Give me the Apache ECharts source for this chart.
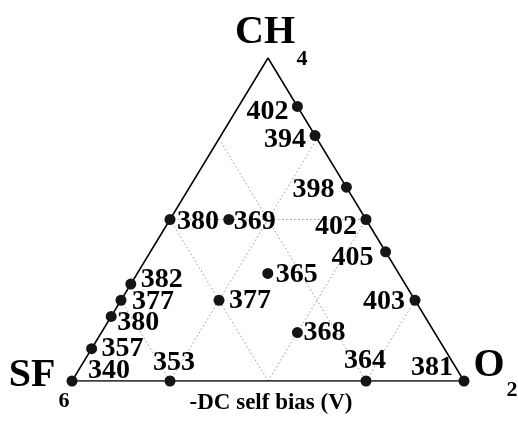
<!DOCTYPE html>
<html>
<head>
<meta charset="utf-8">
<title>-DC self bias (V)</title>
<script src="https://cdn.jsdelivr.net/npm/echarts@6/dist/echarts.min.js"></script>
<style>
  html, body { margin: 0; padding: 0; background: #fff; }
  #chart { width: 518px; height: 426px; }
</style>
</head>
<body>
<div id="chart"></div>
<script>
// Gas mixture compositions (mole fractions) and the measured -DC self bias at each
const ch4  = [0.85, 0.76, 0.60, 0.50, 0.40, 0.25, 0.00, 0.00, 0.00, 0.00, 0.10, 0.20, 0.25, 0.30, 0.50, 0.50, 0.333, 0.25, 0.15];
const o2   = [0.15, 0.24, 0.40, 0.50, 0.60, 0.75, 1.00, 0.75, 0.25, 0.00, 0.00, 0.00, 0.00, 0.00, 0.00, 0.15, 0.333, 0.25, 0.50];
const sf6  = [0.00, 0.00, 0.00, 0.00, 0.00, 0.00, 0.00, 0.25, 0.75, 1.00, 0.90, 0.80, 0.75, 0.70, 0.50, 0.35, 0.334, 0.50, 0.35];
const bias = [402, 394, 398, 402, 405, 403, 381, 364, 353, 340, 357, 380, 377, 382, 380, 369, 365, 377, 368];

// Grid levels of the ternary diagram
const o2Levels  = [0.25, 0.5, 0.75];   // lines of constant O2
const sf6Levels = [0.25, 0.5, 0.75];   // lines of constant SF6
const ch4Levels = [0.5];               // lines of constant CH4

// Label centre offsets (px) from each marker
const labelOffset = [
  [-30, 5], [-30, 4], [-33, 3], [-30, 7], [-33, 6], [-31, 2], [-32, -13],
  [-1, -20], [4, -18], [37, -10], [31, 0], [27, 6], [32, 2], [31, -4],
  [28, 2], [26, 2], [29, 1], [31, 1], [27, 0]
];

// ternary (sf6, ch4, o2) -> cartesian on a unit-width triangle
function toXY(s, c, o) {
  return [o + c / 2, c];
}

const serif = '"Liberation Serif", "DejaVu Serif", serif';

const gridSeries = [];
function gridLine(a, b) {
  gridSeries.push({
    type: 'line', silent: true, symbol: 'none', z: 1,
    lineStyle: { color: '#9a9a9a', width: 1, type: [1.5, 2.5] },
    data: [a, b]
  });
}
o2Levels.forEach(v => gridLine(toXY(1 - v, 0, v), toXY(0, 1 - v, v)));
sf6Levels.forEach(v => gridLine(toXY(v, 1 - v, 0), toXY(v, 0, 1 - v)));
ch4Levels.forEach(v => gridLine(toXY(1 - v, v, 0), toXY(0, v, 1 - v)));

const frame = {
  type: 'line', silent: true, symbol: 'none', z: 2,
  lineStyle: { color: '#000', width: 1.5 },
  data: [toXY(1, 0, 0), toXY(0, 0, 1), toXY(0, 1, 0), toXY(1, 0, 0)]
};

const points = {
  type: 'scatter', z: 5,
  symbol: 'circle', symbolSize: 11,
  itemStyle: { color: '#151515', opacity: 1 },
  data: bias.map((b, i) => ({
    value: toXY(sf6[i], ch4[i], o2[i]).concat(b),
    label: { offset: labelOffset[i] }
  })),
  label: {
    show: true, position: 'inside',
    formatter: p => String(p.value[2]),
    fontFamily: serif, fontWeight: 'bold', fontSize: 28,
    color: '#000', textBorderWidth: 0, textBorderColor: 'transparent'
  }
};

function txt(x, y, s, size) {
  return {
    type: 'text', x: x, y: y, z: 10,
    style: {
      text: s, fontFamily: serif, fontWeight: 'bold', fontSize: size,
      fill: '#000', align: 'center', verticalAlign: 'middle'
    }
  };
}

const chart = echarts.init(document.getElementById('chart'), null, { renderer: 'canvas' });
chart.setOption({
  animation: false,
  backgroundColor: '#fff',
  grid: { left: 72, right: 54, top: 58, bottom: 45 },
  xAxis: { type: 'value', min: 0, max: 1, show: false },
  yAxis: { type: 'value', min: 0, max: 1, show: false },
  series: gridSeries.concat([frame, points]),
  graphic: [
    txt(265, 33, 'CH', 40), txt(302, 59, '4', 22),
    txt(32, 376, 'SF', 40), txt(64, 401, '6', 22),
    txt(489, 366, 'O', 40), txt(512, 390, '2', 22),
    txt(271, 403, '-DC self bias (V)', 23)
  ]
});
</script>
</body>
</html>
